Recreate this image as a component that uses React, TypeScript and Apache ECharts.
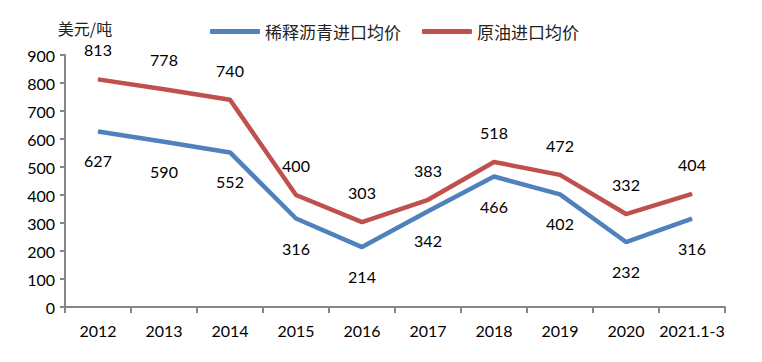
import React, { useEffect, useRef } from "react";
import * as echarts from "echarts";

const categories = ["2012", "2013", "2014", "2015", "2016", "2017", "2018", "2019", "2020", "2021.1-3"];
const bitumenPrices = [627, 590, 552, 316, 214, 342, 466, 402, 232, 316];
const crudePrices = [813, 778, 740, 400, 303, 383, 518, 472, 332, 404];
const seriesNames = ["稀释沥青进口均价", "原油进口均价"];
const yUnit = "美元/吨";

const FONT = "Lato, 'Noto Sans', sans-serif";
const CJK = "'Noto Sans CJK SC', sans-serif";

export default function App() {
  const ref = useRef<HTMLDivElement>(null);
  useEffect(() => {
    if (!ref.current) return;
    const chart = echarts.init(ref.current, undefined, { renderer: "svg" });
    chart.setOption({
      animation: false,
      backgroundColor: "#ffffff",
      grid: { left: 65, right: 37, top: 55, bottom: 55 },
      legend: {
        left: 205,
        top: 18,
        itemWidth: 50,
        itemHeight: 5,
        itemGap: 21,
        icon: "roundRect",
        textStyle: { fontFamily: CJK, fontSize: 17, color: "#222" },
        data: seriesNames,
      },
      xAxis: {
        type: "category",
        data: categories,
        boundaryGap: true,
        axisLine: { lineStyle: { color: "#868686", width: 2 } },
        axisTick: { show: true, length: 6, alignWithLabel: false, lineStyle: { color: "#868686", width: 2 } },
        axisLabel: { color: "#000", fontSize: 16, fontFamily: FONT, margin: 15, interval: 0 },
      },
      yAxis: {
        type: "value",
        min: 0,
        max: 900,
        interval: 100,
        name: yUnit,
        nameLocation: "end",
        nameGap: 19,
        nameTextStyle: { fontFamily: CJK, fontSize: 16, color: "#222", align: "center", lineHeight: 16, padding: [0, 0, 0, 40] },
        splitLine: { show: false },
        axisLine: { show: true, lineStyle: { color: "#868686", width: 2 } },
        axisTick: { show: true, length: 5, lineStyle: { color: "#868686", width: 2 } },
        axisLabel: { color: "#000", fontSize: 16, fontFamily: FONT, margin: 10 },
      },
      series: [
        {
          name: seriesNames[0],
          type: "line",
          data: bitumenPrices,
          showSymbol: true,
          symbol: "circle",
          symbolSize: 1,
          lineStyle: { color: "#4F81BD", width: 4.5 },
          itemStyle: { color: "#4F81BD" },
          label: {
            show: true,
            position: "bottom",
            distance: 21,
            color: "#000",
            fontSize: 16,
            lineHeight: 16,
            fontFamily: FONT,
          },
        },
        {
          name: seriesNames[1],
          type: "line",
          data: crudePrices,
          showSymbol: true,
          symbol: "circle",
          symbolSize: 1,
          lineStyle: { color: "#C0504D", width: 4.5 },
          itemStyle: { color: "#C0504D" },
          label: {
            show: true,
            position: "top",
            distance: 21,
            color: "#000",
            fontSize: 16,
            lineHeight: 16,
            fontFamily: FONT,
          },
        },
      ],
    });
    return () => chart.dispose();
  }, []);
  return <div ref={ref} style={{ width: 762, height: 362, position: "absolute", left: 0, top: 0 }} />;
}
